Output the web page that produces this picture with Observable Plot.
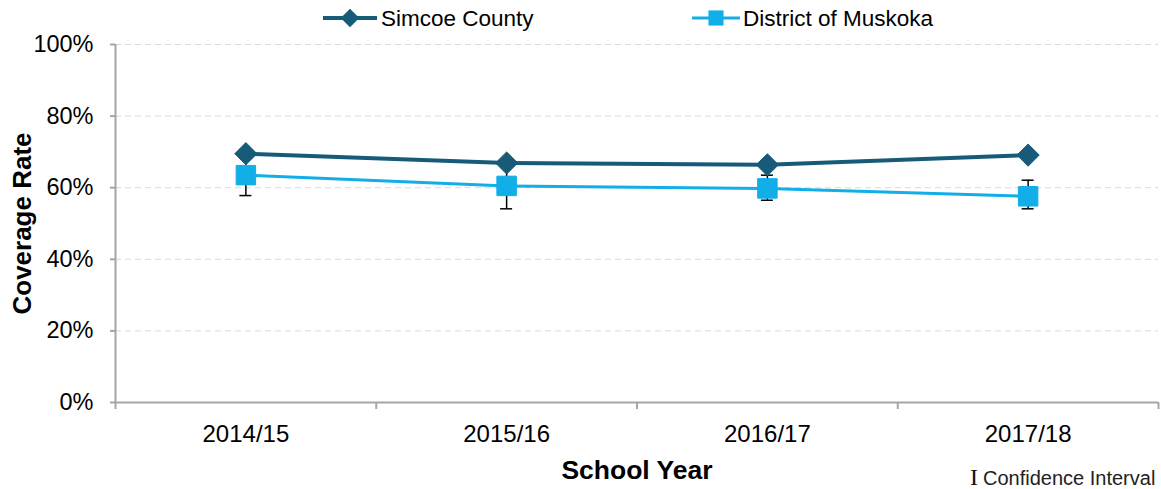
<!DOCTYPE html>
<html><head><meta charset="utf-8">
<script src="https://cdn.jsdelivr.net/npm/d3@7"></script>
<script src="https://cdn.jsdelivr.net/npm/@observablehq/plot@0.6"></script>
<style>
body{margin:0;background:#fff;font-family:"Liberation Sans",Arial,sans-serif;}
#wrap{position:relative;width:1161px;height:489px;overflow:hidden;}
#chart{position:absolute;left:0;top:16px;}
#legend{position:absolute;left:0;top:0;width:1161px;height:36px;}
#ci{position:absolute;left:970px;top:464px;font-size:20px;color:#222;white-space:nowrap;}
#ci span.bar{font-family:"Liberation Serif",serif;font-size:24px;margin-right:5px;color:#111;}
</style></head>
<body><div id="wrap"><div id="chart"></div><div id="legend"></div><div id="ci"><span class="bar">I</span>Confidence Interval</div></div>
<script>
const years = ["2014/15","2015/16","2016/17","2017/18"];
const simcoe = [69.5, 66.9, 66.4, 69.1];
const muskoka = [63.5, 60.5, 59.8, 57.6];
const muskokaLo = [57.8, 54.1, 56.5, 54.1];
const muskokaHi = [69.2, 67.0, 63.5, 62.1];
const yTicks = [0, 20, 40, 60, 80, 100];
const seriesNames = ["Simcoe County", "District of Muskoka"];
const colors = ["#175b78", "#12aee8"];

const simData = years.map((y, i) => ({x: i + 0.5, year: y, v: simcoe[i]}));
const musData = years.map((y, i) => ({x: i + 0.5, year: y, v: muskoka[i], lo: muskokaLo[i], hi: muskokaHi[i]}));
const font = '"Liberation Sans", Arial, sans-serif';

const chart = Plot.plot({
  width: 1161, height: 473,
  marginLeft: 115, marginRight: 3, marginTop: 28, marginBottom: 87,
  style: {fontFamily: font, background: "transparent"},
  x: {domain: [0, years.length]},
  y: {domain: [0, 100]},
  marks: [
    Plot.gridY(yTicks.filter(d => d > 0), {stroke: "#d9d9d9", strokeOpacity: 1, strokeDasharray: "6,4"}),
    Plot.ruleX([0], {stroke: "#a6a6a6", strokeWidth: 2}),
    Plot.ruleY([0], {stroke: "#a6a6a6", strokeWidth: 2}),
    Plot.axisY({ticks: yTicks, tickSize: 5, tickPadding: 17, tickFormat: d => d + "%", fontSize: 23.5, stroke: "#a6a6a6", strokeWidth: 2, color: "#000", label: null}),
    Plot.axisX({ticks: d3.range(years.length + 1), tickSize: 7, tickFormat: () => "", stroke: "#a6a6a6", strokeWidth: 2, label: null}),
    Plot.text(simData, {x: "x", y: 0, text: "year", dy: 32, fontSize: 24, fill: "#000"}),
    Plot.text(["School Year"], {frameAnchor: "bottom", dy: 76, fontSize: 26.5, fontWeight: "bold", fill: "#000"}),
    Plot.text(["Coverage Rate"], {frameAnchor: "left", textAnchor: "middle", dx: -93, rotate: -90, fontSize: 26, fontWeight: "bold", fill: "#000"}),
    Plot.ruleX(musData, {x: "x", y1: "lo", y2: "hi", stroke: "#000", strokeWidth: 1.5}),
    Plot.ruleY(musData, {x1: "x", x2: "x", y: "lo", insetLeft: -6, insetRight: -6, stroke: "#000", strokeWidth: 1.5}),
    Plot.ruleY(musData, {x1: "x", x2: "x", y: "hi", insetLeft: -6, insetRight: -6, stroke: "#000", strokeWidth: 1.5}),
    Plot.line(simData, {x: "x", y: "v", stroke: colors[0], strokeWidth: 4}),
    Plot.line(musData, {x: "x", y: "v", stroke: colors[1], strokeWidth: 3}),
    Plot.dot(simData, {x: "x", y: "v", symbol: "diamond2", r: 10, fill: colors[0], stroke: colors[0], strokeWidth: 1}),
    Plot.dot(musData, {x: "x", y: "v", symbol: "square", r: 11, fill: colors[1], stroke: colors[1], strokeWidth: 1})
  ]
});
document.getElementById("chart").appendChild(chart);

// legend
const lg = d3.select("#legend").append("svg").attr("width", 1161).attr("height", 36)
  .style("font-family", font);
const items = [
  {x0: 323, x1: 377, tx: 381, sym: d3.symbolDiamond2, size: 220},
  {x0: 692, x1: 740, tx: 743, sym: d3.symbolSquare, size: 230}
];
items.forEach((it, i) => {
  const g = lg.append("g");
  g.append("line").attr("x1", it.x0).attr("x2", it.x1).attr("y1", 18).attr("y2", 18)
    .attr("stroke", colors[i]).attr("stroke-width", i ? 3 : 4);
  g.append("path").attr("d", d3.symbol(it.sym, it.size)())
    .attr("transform", `translate(${(it.x0 + it.x1) / 2},18)`).attr("fill", colors[i]);
  g.append("text").attr("x", it.tx).attr("y", 18).attr("dy", "0.35em")
    .attr("font-size", 22.5).attr("fill", "#000").text(seriesNames[i]);
});
</script>
</body></html>
